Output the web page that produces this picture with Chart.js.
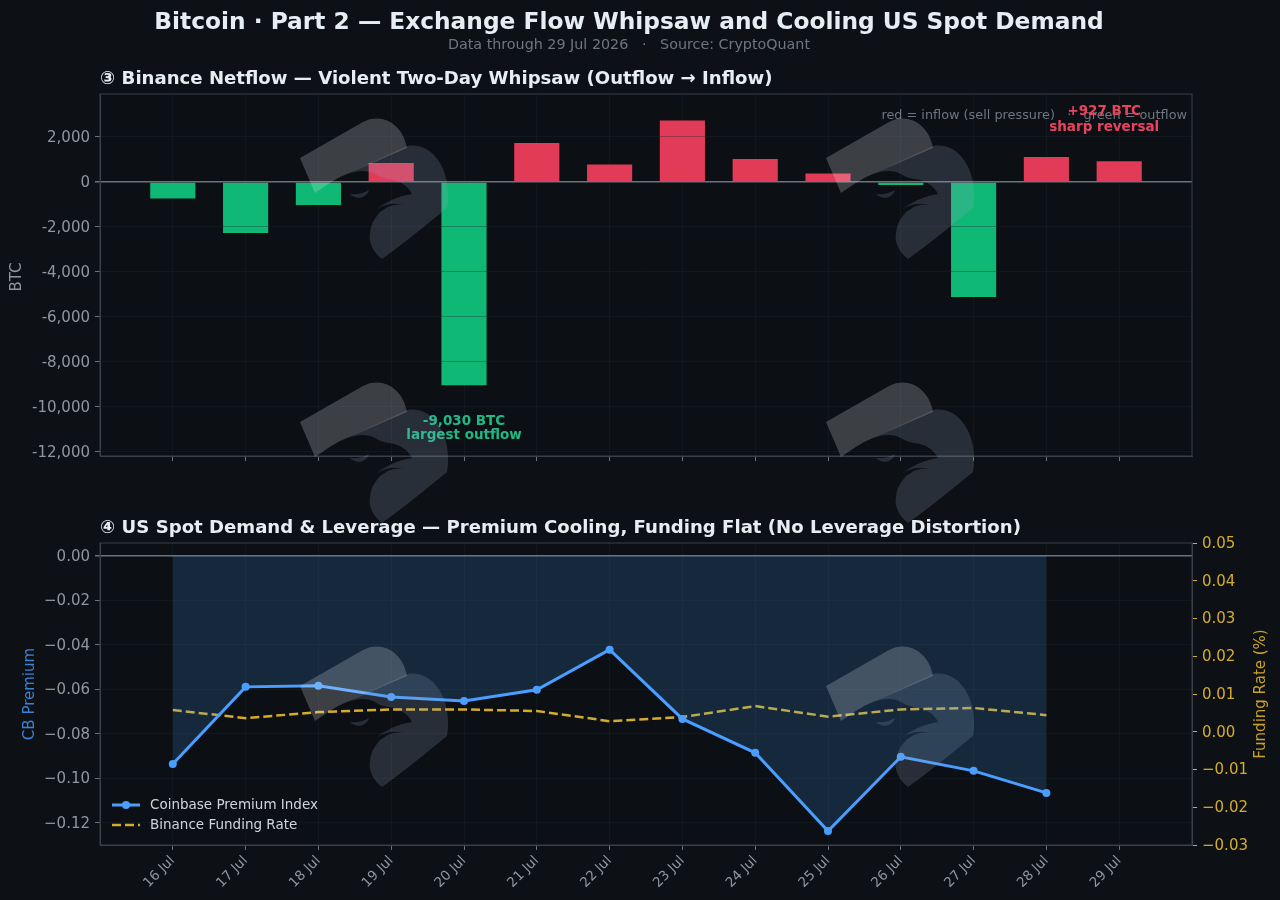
<!DOCTYPE html>
<html>
<head>
<meta charset="utf-8">
<title>Bitcoin Part 2</title>
<script src="https://cdn.jsdelivr.net/npm/chart.js@4"></script>
<style>
  html, body { margin: 0; padding: 0; background: #0d1116; }
  body { width: 1280px; height: 900px; position: relative; overflow: hidden; font-family: "DejaVu Sans", sans-serif; }
  .txt { position: absolute; white-space: pre; }
  #mainTitle { left: 0; width: 1258px; top: 7px; text-align: center; font-size: 23.3px; font-weight: bold; color: #e6edf3; }
  #subTitle { left: 0; width: 1258px; top: 36px; text-align: center; font-size: 14.3px; color: #6e7681; }
  .panelTitle { left: 100px; font-size: 18.1px; font-weight: bold; color: #e6edf3; }
  #netflowWrap { position: absolute; left: 0; top: 0; width: 1280px; height: 480px; }
  #premiumWrap { position: absolute; left: 0; top: 490px; width: 1280px; height: 410px; }
  .mark { position: absolute; width: 150px; height: 145px; pointer-events: none; }
</style>
</head>
<body>
<div id="netflowWrap"><canvas id="netflowChart"></canvas></div>
<div id="premiumWrap"><canvas id="premiumChart"></canvas></div>
<div class="txt" id="mainTitle">Bitcoin · Part 2 — Exchange Flow Whipsaw and Cooling US Spot Demand</div>
<div class="txt" id="subTitle">Data through 29 Jul 2026   ·   Source: CryptoQuant</div>
<div class="txt panelTitle" style="top:67px">③ Binance Netflow — Violent Two-Day Whipsaw (Outflow → Inflow)</div>
<div class="txt panelTitle" style="top:516px">④ US Spot Demand &amp; Leverage — Premium Cooling, Funding Flat (No Leverage Distortion)</div>

<script>
const days = ["16 Jul", "17 Jul", "18 Jul", "19 Jul", "20 Jul", "21 Jul", "22 Jul", "23 Jul", "24 Jul", "25 Jul", "26 Jul", "27 Jul", "28 Jul", "29 Jul"];
const netflow = [-730, -2270, -1020, 840, -9030, 1730, 780, 2730, 1020, 380, -130, -5110, 1110, 927];
const premium = [-0.0935, -0.0589, -0.0584, -0.0634, -0.0652, -0.0602, -0.0422, -0.0733, -0.0885, -0.1236, -0.0903, -0.0966, -0.1065, null];
const funding = [0.00575, 0.0036, 0.0052, 0.0059, 0.0059, 0.0055, 0.0028, 0.0039, 0.0068, 0.004, 0.0059, 0.0063, 0.0044, null];
const netflowTicks = [-12000, -10000, -8000, -6000, -4000, -2000, 0, 2000];
const premiumTicks = [-0.12, -0.1, -0.08, -0.06, -0.04, -0.02, 0];
const fundingTicks = [-0.03, -0.02, -0.01, 0, 0.01, 0.02, 0.03, 0.04, 0.05];

const FONT = '"DejaVu Sans", sans-serif';
const GREEN = "rgba(16, 190, 120, 0.97)";
const RED = "rgba(244, 63, 94, 0.92)";
const BLUE = "#4a9eff";
const GOLD = "#d4ac2c";
const GRID = "rgba(30, 37, 48, 0.35)";
const SPINE = "#3a414b";
const ZERO = "#6b7280";
const TICK = "#8f979f";

// one empty slot either side so the days sit a full step in from the frame
const pad = arr => [null, ...arr, null];
const labels = ["", ...days, ""];

const onlyDays = scale => { scale.ticks = scale.ticks.filter(t => t.value > 0 && t.value < labels.length - 1); };
const fixedTicks = list => scale => { scale.ticks = list.map(value => ({ value })); };
const withComma = v => (v < 0 ? "-" : "") + Math.abs(v).toLocaleString("en-US");
const minus2 = v => (v < -1e-9 ? "\u2212" : "") + Math.abs(v).toFixed(2);
const zeroGrid = ctx => (ctx.tick && ctx.tick.value === 0 ? ZERO : GRID);
const zeroWidth = ctx => (ctx.tick && ctx.tick.value === 0 ? 1.5 : 1);

function sideTitle(ctx, text, x, y, color) {
  ctx.save();
  ctx.translate(x, y);
  ctx.rotate(-Math.PI / 2);
  ctx.textAlign = "center";
  ctx.textBaseline = "middle";
  ctx.font = "15px " + FONT;
  ctx.fillStyle = color;
  ctx.fillText(text, 0, 0);
  ctx.restore();
}

const frame = {
  id: "frame",
  beforeDraw(chart) {
    const { ctx, chartArea: a } = chart;
    ctx.save();
    ctx.fillStyle = "#0c1015";
    ctx.fillRect(a.left, a.top, a.width, a.height);
    ctx.restore();
  },
  afterDraw(chart) {
    const { ctx, chartArea: a } = chart;
    ctx.save();
    ctx.strokeStyle = SPINE;
    ctx.lineWidth = 1;
    ctx.strokeRect(a.left, a.top, a.width, a.height);
    ctx.restore();
  }
};

const netflowNotes = {
  id: "netflowNotes",
  afterDatasetsDraw(chart) {
    const { ctx, chartArea: a, scales } = chart;
    sideTitle(ctx, "BTC", 17, 277, TICK);
    ctx.save();
    ctx.textBaseline = "middle";
    ctx.font = "12.85px " + FONT;
    ctx.fillStyle = "#6e7681";
    ctx.textAlign = "right";
    ctx.fillText("red = inflow (sell pressure)   ·   green = outflow", a.right - 5, a.top + 22);

    ctx.textAlign = "center";
    ctx.font = "bold 13.5px " + FONT;
    const low = netflow.indexOf(-9030) + 1;
    const lowX = scales.x.getPixelForValue(low);
    const lowY = scales.y.getPixelForValue(-9030);
    ctx.fillStyle = "#1fb985";
    ctx.fillText("-9,030 BTC", lowX, lowY + 36);
    ctx.fillText("largest outflow", lowX, lowY + 50);

    const lastX = scales.x.getPixelForValue(netflow.length);
    const lastY = scales.y.getPixelForValue(927);
    ctx.fillStyle = "#e8445f";
    ctx.fillText("+927 BTC", lastX - 15, lastY - 50);
    ctx.fillText("sharp reversal", lastX - 15, lastY - 34);
    ctx.restore();
  }
};

const premiumNotes = {
  id: "premiumNotes",
  afterDraw(chart) {
    const { ctx, chartArea: a } = chart;
    // right axis title reads bottom to top, which the scale title will not do
    sideTitle(ctx, "Funding Rate (%)", 1261, (a.top + a.bottom) / 2, "#c9a227");

    ctx.save();
    ctx.font = "13.5px " + FONT;
    ctx.textBaseline = "middle";
    chart.data.datasets.forEach((ds, i) => {
      const y = a.bottom - 40 + i * 20;
      ctx.strokeStyle = ds.borderColor;
      ctx.lineWidth = ds.borderWidth;
      ctx.setLineDash(ds.borderDash || []);
      ctx.beginPath();
      ctx.moveTo(a.left + 12, y);
      ctx.lineTo(a.left + 40, y);
      ctx.stroke();
      ctx.setLineDash([]);
      if (ds.pointRadius) {
        ctx.fillStyle = ds.borderColor;
        ctx.beginPath();
        ctx.arc(a.left + 26, y, ds.pointRadius, 0, Math.PI * 2);
        ctx.fill();
      }
      ctx.fillStyle = "#d1d5db";
      ctx.fillText(ds.label, a.left + 50, y + 0.5);
    });
    ctx.restore();
  }
};

new Chart(document.getElementById("netflowChart"), {
  type: "bar",
  data: {
    labels,
    datasets: [{
      label: "Binance Netflow",
      data: pad(netflow),
      backgroundColor: pad(netflow).map(v => (v > 0 ? RED : GREEN)),
      barPercentage: 0.62,
      categoryPercentage: 1
    }]
  },
  options: {
    responsive: true,
    maintainAspectRatio: false,
    animation: false,
    layout: { padding: { top: 94, right: 88, left: 0, bottom: 0 } },
    plugins: { legend: { display: false }, tooltip: { enabled: false } },
    scales: {
      x: {
        type: "category",
        offset: false,
        afterBuildTicks: onlyDays,
        border: { color: SPINE },
        grid: { offset: false, color: GRID, tickColor: ZERO, tickLength: 5 },
        ticks: { display: false },
        afterFit: s => { s.height = 24; }
      },
      y: {
        min: -12178,
        max: 3911,
        afterBuildTicks: fixedTicks(netflowTicks),
        afterFit: s => { s.width = 100; },
        border: { color: SPINE, z: 1 },
        grid: { color: zeroGrid, lineWidth: zeroWidth, tickColor: ZERO, tickLength: 5, z: 1 },
        ticks: { color: TICK, padding: 5, labelOffset: 1, font: { family: FONT, size: 15 }, callback: withComma }
      }
    }
  },
  plugins: [frame, netflowNotes]
});

new Chart(document.getElementById("premiumChart"), {
  type: "line",
  data: {
    labels,
    datasets: [{
      label: "Coinbase Premium Index",
      data: pad(premium),
      yAxisID: "y",
      borderColor: BLUE,
      borderWidth: 3,
      pointRadius: 4,
      pointBackgroundColor: BLUE,
      pointBorderColor: BLUE,
      pointBorderWidth: 0,
      tension: 0,
      spanGaps: false,
      fill: { value: 0 },
      backgroundColor: "rgba(74, 158, 255, 0.17)"
    }, {
      label: "Binance Funding Rate",
      data: pad(funding),
      yAxisID: "y1",
      borderColor: GOLD,
      borderWidth: 2.5,
      borderDash: [9, 4],
      pointRadius: 0,
      tension: 0,
      fill: false
    }]
  },
  options: {
    responsive: true,
    maintainAspectRatio: false,
    animation: false,
    layout: { padding: { top: 53, right: 0, left: 0, bottom: 0 } },
    plugins: { legend: { display: false }, tooltip: { enabled: false } },
    scales: {
      x: {
        type: "category",
        offset: false,
        afterBuildTicks: onlyDays,
        border: { color: SPINE },
        grid: { color: GRID, tickColor: ZERO, tickLength: 5 },
        ticks: { autoSkip: false, color: TICK, minRotation: 45, maxRotation: 45, padding: 3, font: { family: FONT, size: 13.5 } },
        afterFit: s => { s.height = 55; }
      },
      y: {
        position: "left",
        min: -0.1299,
        max: 0.0057,
        afterBuildTicks: fixedTicks(premiumTicks),
        afterFit: s => { s.width = 100; },
        border: { color: SPINE },
        grid: { color: zeroGrid, lineWidth: zeroWidth, tickColor: ZERO, tickLength: 5 },
        ticks: { color: TICK, padding: 5, labelOffset: 1, font: { family: FONT, size: 15 }, callback: minus2 },
        title: { display: true, text: "CB Premium", color: "#3b82d6", font: { family: FONT, size: 15 }, padding: { top: 21, bottom: 0 } }
      },
      y1: {
        position: "right",
        min: -0.03,
        max: 0.05,
        afterBuildTicks: fixedTicks(fundingTicks),
        afterFit: s => { s.width = 88; },
        border: { color: SPINE },
        grid: { drawOnChartArea: false, tickColor: GOLD, tickLength: 5 },
        ticks: { color: GOLD, padding: 5, labelOffset: 1, font: { family: FONT, size: 15 }, callback: minus2 }
      }
    }
  },
  plugins: [frame, premiumNotes]
});

// faint logo stamped over the page, six times
const markSvg = '<svg xmlns="http://www.w3.org/2000/svg" viewBox="0 0 150 145" width="150" height="145">' +
  '<path d="M0,40 L63,4 C82,-6 103,6 107,30 L47,56 C36,60 27,67 15,75 Z" fill="rgba(255,255,255,0.2)"/>' +
  '<path d="M47,56 L107,28 C132,24 150,50 148,82 L147,90 C120,112 100,128 82,141 C74,135 68,125 70,115 C71,105 75,100 80,94 C88,88 95,85 103,87 C92,84 82,87 73,94 C85,84 98,78 112,76 C108,68 100,62 88,61 C82,60 78,58 75,56 C68,52 58,52 47,56 Z" fill="rgba(150,170,200,0.2)"/>' +
  '<path d="M50,76 C56,82 66,81 69,72 C62,76 56,77 50,76 Z" fill="rgba(150,170,200,0.2)"/>' +
  '</svg>';
[[300, 118], [826, 118], [300, 382], [826, 382], [300, 646], [826, 646]].forEach(([x, y]) => {
  const d = document.createElement("div");
  d.className = "mark";
  d.style.left = x + "px";
  d.style.top = y + "px";
  d.innerHTML = markSvg;
  document.body.appendChild(d);
});
</script>
</body>
</html>
